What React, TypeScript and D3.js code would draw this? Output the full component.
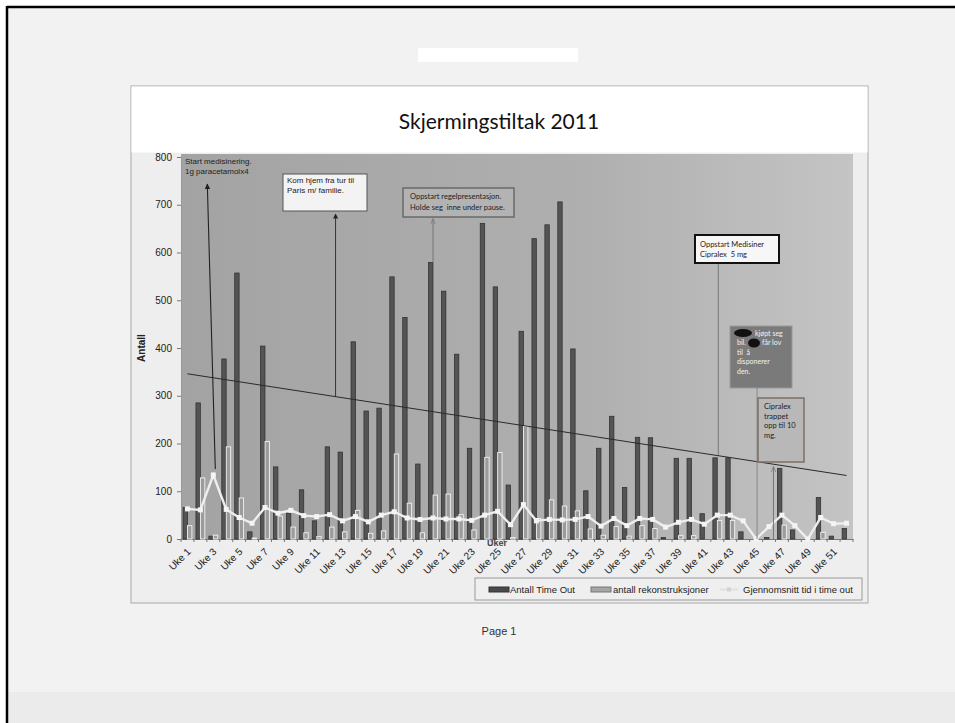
import { useRef, useEffect } from 'react';
import * as d3 from 'd3';

const WEEKS = d3.range(1, 53);
const TICK_WEEKS = WEEKS.filter(w => w % 2 === 1);

const TIME_OUT = [
  66, 285, 6, 377, 557, 15, 404, 151, 54, 103, 38, 193, 182, 413, 268, 274, 549, 464, 157, 579,
  519, 387, 190, 661, 528, 113, 435, 629, 658, 706, 398, 101, 190, 257, 108, 213, 212, 3, 169, 169,
  53, 170, 170, 15, 0, 3, 148, 19, 0, 87, 6, 22,
];

const REKONSTRUKSJONER = [
  28, 128, 8, 193, 86, 2, 204, 48, 25, 13, 5, 25, 15, 60, 12, 17, 178, 75, 13, 92,
  94, 51, 19, 171, 181, 3, 236, 43, 82, 69, 59, 21, 8, 26, 6, 28, 22, 0, 7, 7,
  0, 39, 39, 0, 0, 0, 29, 0, 0, 14, 0, 0,
];

const GJENNOMSNITT = [
  63, 61, 134, 62, 45, 33, 66, 54, 60, 49, 47, 51, 38, 47, 36, 50, 57, 44, 41, 44,
  42, 42, 39, 50, 58, 30, 72, 38, 41, 40, 41, 47, 27, 43, 28, 43, 41, 25, 35, 41,
  31, 50, 50, 38, 0, 26, 50, 28, 0, 45, 32, 33,
];

// trendline endpoints (week 1 and week 52)
const TREND = [346, 133];

const Y_TICKS = [0, 100, 200, 300, 400, 500, 600, 700, 800];

const LEGEND = ['Antall Time Out', 'antall rekonstruksjoner', 'Gjennomsnitt tid i time out'];

export default function App() {
  const svgRef = useRef<SVGSVGElement>(null);

  useEffect(() => {
    if (!svgRef.current) return;
    const W = 955, H = 723;
    const plot = { left: 181, right: 853, top: 157, bottom: 539 };
    const svg = d3.select(svgRef.current);
    svg.selectAll('*').remove();
    svg.attr('width', W).attr('height', H).attr('viewBox', `0 0 ${W} ${H}`);

    const defs = svg.append('defs');
    const grad = defs.append('linearGradient').attr('id', 'plotbg');
    grad.append('stop').attr('offset', '0%').attr('stop-color', '#a3a3a3');
    grad.append('stop').attr('offset', '60%').attr('stop-color', '#afafaf');
    grad.append('stop').attr('offset', '100%').attr('stop-color', '#c4c4c4');

    // page
    svg.append('rect').attr('width', W).attr('height', H).attr('fill', '#ffffff');
    svg.append('rect').attr('x', 8).attr('y', 8).attr('width', W - 8).attr('height', H - 8).attr('fill', '#f2f2f2');
    svg.append('rect').attr('x', 8).attr('y', 692).attr('width', W - 8).attr('height', H - 692).attr('fill', '#ebebeb');
    svg.append('line').attr('x1', 7).attr('x2', W).attr('y1', 7).attr('y2', 7).attr('stroke', '#000').attr('stroke-width', 2.5);
    svg.append('line').attr('x1', 7).attr('x2', 7).attr('y1', 6).attr('y2', H).attr('stroke', '#000').attr('stroke-width', 2.5);
    svg.append('rect').attr('x', 418).attr('y', 48).attr('width', 160).attr('height', 14).attr('fill', '#ffffff');

    // chart frame
    svg.append('rect').attr('x', 131).attr('y', 86).attr('width', 737).attr('height', 517)
      .attr('fill', '#eeeeee').attr('stroke', '#a8a8a8');
    svg.append('rect').attr('x', 131.5).attr('y', 86.5).attr('width', 736).attr('height', 66).attr('fill', '#ffffff');
    svg.append('text').attr('x', 499).attr('y', 129).attr('text-anchor', 'middle')
      .attr('font-family', 'Lato, "Open Sans", sans-serif').attr('font-size', 21).attr('fill', '#111')
      .text('Skjermingstiltak 2011');

    const x = d3.scaleBand<number>().domain(WEEKS).range([plot.left, plot.right]).paddingInner(0.3).paddingOuter(0.15);
    const xs = d3.scaleBand<string>().domain(['t', 'r']).range([0, x.bandwidth()]).padding(0.02);
    const cx = (w: number) => (x(w) ?? 0) + x.bandwidth() / 2;
    const y = d3.scaleLinear().domain([0, 800]).range([plot.bottom, plot.top]);

    svg.append('rect').attr('x', plot.left).attr('y', 154).attr('width', plot.right - plot.left)
      .attr('height', plot.bottom - 154).attr('fill', 'url(#plotbg)');

    // y axis
    svg.append('g')
      .attr('transform', `translate(${plot.left},0)`)
      .call(d3.axisLeft(y).tickValues(Y_TICKS).tickSize(4).tickPadding(5))
      .call(g => g.select('.domain').attr('stroke', '#999'))
      .call(g => g.selectAll('.tick line').attr('stroke', '#777'))
      .call(g => g.selectAll('.tick text').attr('fill', '#222').attr('font-size', 10)
        .attr('font-family', '"Liberation Sans", Arial, sans-serif'));

    // x axis
    const xAxis = svg.append('g')
      .attr('transform', `translate(0,${plot.bottom})`)
      .call(d3.axisBottom(x).tickValues(TICK_WEEKS).tickSize(0).tickFormat(d => `Uke ${d}`))
      .call(g => g.select('.domain').attr('stroke', '#777'));
    xAxis.selectAll('.tick text')
      .attr('fill', '#222').attr('font-size', 10).attr('font-family', '"Liberation Sans", Arial, sans-serif')
      .attr('text-anchor', 'end').attr('dx', '-0.1em').attr('dy', '0.5em')
      .attr('transform', 'translate(-1,7) rotate(-45)');
    svg.append('g').selectAll('line')
      .data(d3.range(0, 53))
      .join('line')
      .attr('x1', i => plot.left + i * (plot.right - plot.left) / 52)
      .attr('x2', i => plot.left + i * (plot.right - plot.left) / 52)
      .attr('y1', plot.bottom).attr('y2', plot.bottom + 3)
      .attr('stroke', '#777');

    // dark bars
    svg.append('g').selectAll('rect')
      .data(WEEKS)
      .join('rect')
      .attr('x', w => (x(w) ?? 0) + (xs('t') ?? 0))
      .attr('y', w => y(TIME_OUT[w - 1]))
      .attr('width', xs.bandwidth())
      .attr('height', w => y(0) - y(TIME_OUT[w - 1]))
      .attr('fill', '#545454').attr('stroke', '#333').attr('stroke-width', 0.8);

    // light bars
    svg.append('g').selectAll('rect')
      .data(WEEKS.filter(w => REKONSTRUKSJONER[w - 1] > 0))
      .join('rect')
      .attr('x', w => (x(w) ?? 0) + (xs('r') ?? 0))
      .attr('y', w => y(REKONSTRUKSJONER[w - 1]))
      .attr('width', xs.bandwidth())
      .attr('height', w => y(0) - y(REKONSTRUKSJONER[w - 1]))
      .attr('fill', '#9c9c9c').attr('stroke', '#f2f2f2').attr('stroke-width', 0.9);

    // average line
    svg.append('path')
      .datum(WEEKS)
      .attr('fill', 'none').attr('stroke', '#eeeeee').attr('stroke-width', 2.4)
      .attr('d', d3.line<number>().x(w => cx(w)).y(w => y(GJENNOMSNITT[w - 1])));
    svg.append('g').selectAll('rect')
      .data(WEEKS)
      .join('rect')
      .attr('x', w => cx(w) - 2.5).attr('y', w => y(GJENNOMSNITT[w - 1]) - 2.5)
      .attr('width', 5).attr('height', 5).attr('fill', '#f4f4f4');

    // trendline
    svg.append('line')
      .attr('x1', cx(1)).attr('y1', y(TREND[0]))
      .attr('x2', cx(52)).attr('y2', y(TREND[1]))
      .attr('stroke', '#2a2a2a').attr('stroke-width', 1);

    // axis titles
    svg.append('text').attr('transform', `translate(145,${(plot.top + plot.bottom) / 2}) rotate(-90)`)
      .attr('text-anchor', 'middle').attr('font-family', '"Liberation Sans", Arial, sans-serif')
      .attr('font-size', 10).attr('font-weight', 'bold').attr('fill', '#222').text('Antall');
    svg.append('text').attr('x', 497).attr('y', 546).attr('text-anchor', 'middle')
      .attr('font-family', '"Liberation Sans", Arial, sans-serif')
      .attr('font-size', 9).attr('font-weight', 'bold').attr('fill', '#444').text('Uker');

    // annotations
    const arrow = defs.append('marker').attr('id', 'arr').attr('viewBox', '0 0 10 10')
      .attr('refX', 9).attr('refY', 5).attr('markerWidth', 5).attr('markerHeight', 5).attr('orient', 'auto');
    arrow.append('path').attr('d', 'M0,0 L10,5 L0,10 z').attr('fill', '#222');
    const arrowGray = defs.append('marker').attr('id', 'arrg').attr('viewBox', '0 0 10 10')
      .attr('refX', 9).attr('refY', 5).attr('markerWidth', 6).attr('markerHeight', 6).attr('orient', 'auto');
    arrowGray.append('path').attr('d', 'M0,1 L10,5 L0,9').attr('fill', 'none').attr('stroke', '#777').attr('stroke-width', 1.2);

    const ARIAL = '"Liberation Sans", Arial, sans-serif';
    const CALIBRI = 'Lato, "Open Sans", sans-serif';
    const textLines = (lines: string[], x0: number, y0: number, lh: number, font: string, fill = '#222', size = 8) => {
      const t = svg.append('text').attr('font-family', font).attr('font-size', size).attr('fill', fill)
        .style('white-space', 'pre');
      lines.forEach((l, i) => t.append('tspan').attr('x', x0).attr('y', y0 + i * lh).text(l));
    };

    // 1: start medisinering
    textLines(['Start medisinering.', '1g paracetamolx4'], 185, 164, 10, ARIAL);
    svg.append('line').attr('x1', cx(3) + 2).attr('y1', y(GJENNOMSNITT[2]) - 6)
      .attr('x2', cx(3) - 6).attr('y2', 184)
      .attr('stroke', '#222').attr('stroke-width', 1.1).attr('marker-end', 'url(#arr)');

    // 2: kom hjem
    svg.append('rect').attr('x', 283).attr('y', 174).attr('width', 84).attr('height', 37)
      .attr('fill', '#f3f3f3').attr('stroke', '#555').attr('stroke-width', 1);
    textLines(['Kom hjem fra tur til', 'Paris m/ familie.'], 287, 183, 9.5, ARIAL);
    const k2 = (cx(12) + cx(13)) / 2 - 0.5;
    svg.append('line').attr('x1', k2).attr('y1', 397).attr('x2', k2).attr('y2', 214)
      .attr('stroke', '#333').attr('stroke-width', 1).attr('marker-end', 'url(#arr)');

    // 3: oppstart regelpresentasjon
    svg.append('rect').attr('x', 403).attr('y', 188).attr('width', 111).attr('height', 29)
      .attr('fill', '#b3b3b3').attr('stroke', '#6a6a6a').attr('stroke-width', 1.5);
    textLines(['Oppstart regelpresentasjon.', 'Holde seg  inne under pause.'], 410, 199, 10.5, CALIBRI, '#222', 7.5);
    svg.append('line').attr('x1', cx(20)).attr('y1', y(TIME_OUT[19])).attr('x2', cx(20)).attr('y2', 219)
      .attr('stroke', '#777').attr('stroke-width', 1).attr('marker-end', 'url(#arrg)');

    // 4: oppstart medisiner
    svg.append('rect').attr('x', 695).attr('y', 235).attr('width', 84).attr('height', 28)
      .attr('fill', '#f7f7f7').attr('stroke', '#111').attr('stroke-width', 2);
    textLines(['Oppstart Medisiner', 'Cipralex  5 mg'], 700, 247, 10, CALIBRI, '#222', 7.5);
    svg.append('line').attr('x1', cx(42) + 1).attr('y1', 264).attr('x2', cx(42) + 1).attr('y2', 455)
      .attr('stroke', '#777').attr('stroke-width', 1);

    // 5: bil
    svg.append('rect').attr('x', 730).attr('y', 326).attr('width', 62).attr('height', 62)
      .attr('fill', '#7a7a7a').attr('stroke', '#999').attr('stroke-width', 1);
    const bil = svg.append('text').attr('font-family', CALIBRI).attr('font-size', 7).attr('fill', '#f2f2f2');
    bil.append('tspan').attr('x', 755).attr('y', 336).text('kjøpt seg');
    bil.append('tspan').attr('x', 737).attr('y', 345).text('bil.');
    bil.append('tspan').attr('x', 762).attr('y', 345).text('får lov');
    bil.append('tspan').attr('x', 737).attr('y', 354.5).text('til  å').style('white-space', 'pre');
    bil.append('tspan').attr('x', 737).attr('y', 364).text('disponerer');
    bil.append('tspan').attr('x', 737).attr('y', 373.5).text('den.');
    svg.append('ellipse').attr('cx', 743).attr('cy', 333).attr('rx', 9).attr('ry', 4).attr('fill', '#111');
    svg.append('ellipse').attr('cx', 754).attr('cy', 343).attr('rx', 6).attr('ry', 4.5).attr('fill', '#111');
    svg.append('line').attr('x1', cx(45) + 1).attr('y1', 388).attr('x2', cx(45) + 1).attr('y2', plot.bottom)
      .attr('stroke', '#888').attr('stroke-width', 1);

    // 6: cipralex trappet
    svg.append('rect').attr('x', 758).attr('y', 398).attr('width', 46).attr('height', 64)
      .attr('fill', '#b8b8b8').attr('stroke', '#7d6f66').attr('stroke-width', 1.5);
    textLines(['Cipralex', 'trappet', 'opp til 10', 'mg.'], 764, 409, 9.5, CALIBRI, '#222', 7.5);
    const k6 = (cx(46) + cx(47)) / 2 - 2;
    svg.append('line').attr('x1', k6).attr('y1', plot.bottom).attr('x2', k6).attr('y2', 467)
      .attr('stroke', '#777').attr('stroke-width', 1).attr('marker-end', 'url(#arrg)');

    // legend
    svg.append('rect').attr('x', 475).attr('y', 578).attr('width', 387).attr('height', 22)
      .attr('fill', '#efefef').attr('stroke', '#9a9a9a');
    const lg = svg.append('g').attr('font-family', ARIAL).attr('font-size', 9.5).attr('fill', '#222');
    lg.append('rect').attr('x', 489).attr('y', 587).attr('width', 20).attr('height', 5).attr('fill', '#4a4a4a').attr('stroke', '#333');
    lg.append('text').attr('x', 510).attr('y', 593).text(LEGEND[0]);
    lg.append('rect').attr('x', 591).attr('y', 587).attr('width', 20).attr('height', 5).attr('fill', '#a6a6a6').attr('stroke', '#777');
    lg.append('text').attr('x', 613).attr('y', 593).text(LEGEND[1]);
    lg.append('line').attr('x1', 720).attr('x2', 738).attr('y1', 589.5).attr('y2', 589.5).attr('stroke', '#e0e0e0').attr('stroke-width', 2);
    lg.append('rect').attr('x', 727).attr('y', 587.5).attr('width', 4).attr('height', 4).attr('fill', '#d4d4d4');
    lg.append('text').attr('x', 743).attr('y', 593).text(LEGEND[2]);

    svg.append('text').attr('x', 499).attr('y', 635).attr('text-anchor', 'middle')
      .attr('font-family', ARIAL).attr('font-size', 11).attr('fill', '#333').text('Page 1');
  }, []);

  return (
    <div style={{ position: 'absolute', left: 0, top: 0 }}>
      <svg ref={svgRef} style={{ display: 'block' }} />
    </div>
  );
}
